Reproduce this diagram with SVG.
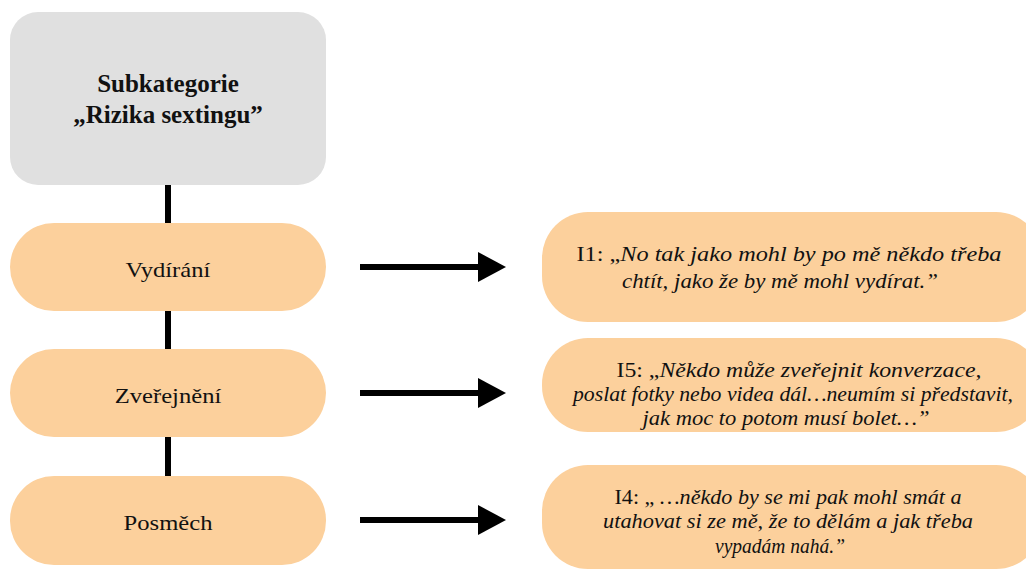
<svg xmlns="http://www.w3.org/2000/svg" width="1026" height="570" viewBox="0 0 1026 570">
<style>
.pill{fill:#fcd09c}
.head{fill:#e0e0e0}
text{font-family:"Liberation Serif","Times New Roman",serif;fill:#111;text-anchor:middle}
.lbl{font-size:22px}
.q{font-size:21px;font-style:italic}
.n{font-style:normal}
.conn{stroke:#000;stroke-width:6;fill:none}
</style>
<defs>
<marker id="ah" markerUnits="userSpaceOnUse" markerWidth="28" markerHeight="30" refX="0" refY="15" orient="auto">
<path d="M0,0 L28,15 L0,30 Z" fill="#000"/>
</marker>
</defs>
<rect width="1026" height="570" fill="#fff"/>
<g id="connectors">
<line class="conn" x1="168" y1="185" x2="168" y2="223"/>
<line class="conn" x1="168" y1="311" x2="168" y2="349"/>
<line class="conn" x1="168" y1="437" x2="168" y2="476"/>
<line class="conn" x1="360" y1="267" x2="478" y2="267" marker-end="url(#ah)"/>
<line class="conn" x1="360" y1="393" x2="478" y2="393" marker-end="url(#ah)"/>
<line class="conn" x1="360" y1="520" x2="478" y2="520" marker-end="url(#ah)"/>
</g>
<g id="header">
<rect class="head" x="10" y="12" width="316" height="173" rx="28"/>
<text x="168" y="92" font-size="25" font-weight="bold">Subkategorie</text>
<text x="168" y="123" font-size="25" font-weight="bold">„Rizika sextingu”</text>
</g>
<g id="vydirani">
<rect class="pill" x="10" y="223" width="316" height="88" rx="44"/>
<text class="lbl" transform="translate(168 277) scale(1.12 1)">Vydírání</text>
</g>
<g id="zverejneni">
<rect class="pill" x="10" y="349" width="316" height="88" rx="44"/>
<text class="lbl" transform="translate(168 403) scale(1.12 1)">Zveřejnění</text>
</g>
<g id="posmech">
<rect class="pill" x="10" y="476" width="316" height="89" rx="44"/>
<text class="lbl" transform="translate(168 530) scale(1.12 1)">Posměch</text>
</g>
<g id="q1">
<rect class="pill" x="542" y="212" width="500" height="110" rx="46"/>
<text class="q" x="789" y="261" textLength="425" lengthAdjust="spacingAndGlyphs"><tspan class="n">I1: „</tspan>No tak jako mohl by po mě někdo třeba</text>
<text class="q" x="780" y="288" textLength="316" lengthAdjust="spacingAndGlyphs">chtít, jako že by mě mohl vydírat.”</text>
</g>
<g id="q5">
<rect class="pill" x="542" y="338" width="500" height="94" rx="46"/>
<text class="q" x="799" y="377" textLength="365" lengthAdjust="spacingAndGlyphs"><tspan class="n">I5: „</tspan>Někdo může zveřejnit konverzace,</text>
<text class="q" x="793" y="401" textLength="440" lengthAdjust="spacingAndGlyphs">poslat fotky nebo videa dál…neumím si představit,</text>
<text class="q" x="786" y="425" textLength="287" lengthAdjust="spacingAndGlyphs">jak moc to potom musí bolet…”</text>
</g>
<g id="q4">
<rect class="pill" x="542" y="465" width="500" height="104" rx="46"/>
<text class="q" x="788" y="504" textLength="347" lengthAdjust="spacingAndGlyphs"><tspan class="n">I4: „ </tspan>…někdo by se mi pak mohl smát a</text>
<text class="q" x="788" y="528" textLength="370" lengthAdjust="spacingAndGlyphs">utahovat si ze mě, že to dělám a jak třeba</text>
<text class="q" x="780" y="553" textLength="130" lengthAdjust="spacingAndGlyphs">vypadám nahá.”</text>
</g>
</svg>
